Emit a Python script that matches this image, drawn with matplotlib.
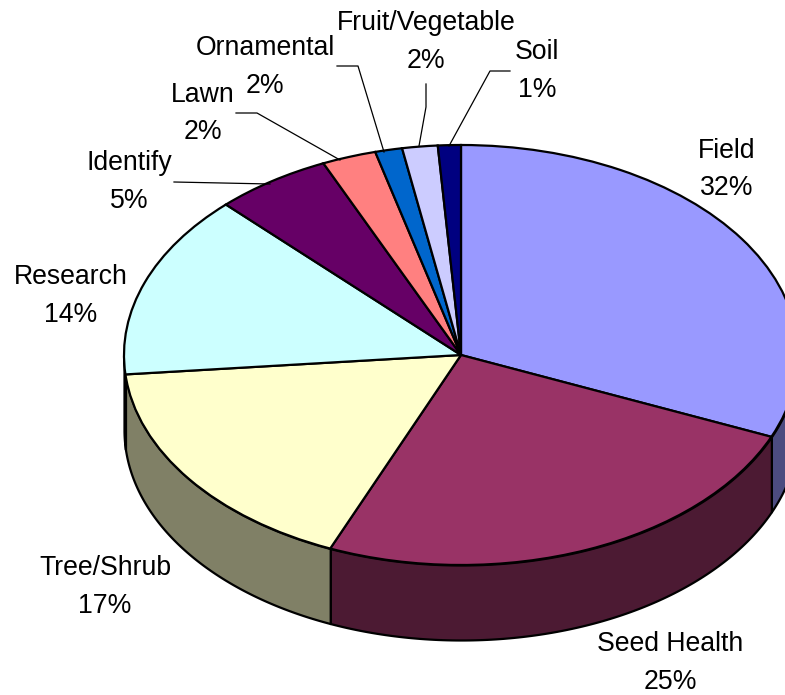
"""Soil/plant sample categories as an Excel-style 3D pie."""

import matplotlib.pyplot as plt
import numpy as np

plt.rcParams["font.family"] = ["Liberation Sans", "DejaVu Sans"]

W, H = 785, 695

CATEGORIES = ["Field", "Seed Health", "Tree/Shrub", "Research", "Identify",
              "Lawn", "Ornamental", "Fruit/Vegetable", "Soil"]
# slice sizes as drawn, the printed labels are rounded differently
SHARES = [31.4, 25.0, 17.2, 14.2, 5.6, 2.6, 1.3, 1.7, 1.1]
PERCENT_LABELS = [32, 25, 17, 14, 5, 2, 2, 2, 1]
TOP_COLORS = ["#9999ff", "#993366", "#ffffcc", "#ccffff", "#660066",
              "#ff8080", "#0066cc", "#ccccff", "#000080"]
WALL_COLORS = ["#4c4c80", "#4c1a33", "#808066", "#668080", "#330033",
               "#804040", "#003366", "#666680", "#000040"]

# label positions in image pixels: centre x, then y of name and percent lines
LABEL_X = [727, 670, 105, 71, 129, 203, 265, 426, 537]
NAME_Y = [151, 644, 568, 277, 163, 95, 48, 23, 52]
PERCENT_Y = [188, 682, 606, 315, 201, 132, 86, 61, 90]

LEADERS = [
    ([174, 270], [182, 184]),
    ([236, 257, 340], [113, 113, 160]),
    ([337, 358, 384], [66, 66, 152]),
    ([426, 426, 419], [84, 107, 146]),
    ([510, 490, 449], [71, 71, 146]),
]

# ellipse of the pie top in image pixels
CX, CY, RX, RY = 461, 355, 337, 210
DEPTH = 75 / RY

fig = plt.figure(figsize=(W / 100, H / 100), dpi=100, facecolor="white")

# unit circle squashed into the ellipse by the axes box itself
ax = fig.add_axes([(CX - RX) / W, 1 - (CY + RY) / H, 2 * RX / W, 2 * RY / H])
ax.pie(SHARES, colors=TOP_COLORS, startangle=90, counterclock=False, radius=1,
       wedgeprops=dict(edgecolor="black", linewidth=1.6, clip_on=False, zorder=3))
ax.set_aspect("auto")
ax.set_xlim(-1, 1)
ax.set_ylim(-1, 1)

# side walls: only the part of each slice on the front half of the ellipse
edges = 90 - np.cumsum([0] + SHARES) / sum(SHARES) * 360
for start, end, color in zip(edges[:-1], edges[1:], WALL_COLORS):
    lo, hi = max(end, -180), min(start, 0)
    if lo >= hi:
        continue
    t = np.radians(np.linspace(lo, hi, 120))
    ax.fill_between(np.cos(t), np.sin(t), np.sin(t) - DEPTH, facecolor=color,
                    edgecolor="black", linewidth=1.6, clip_on=False, zorder=2)

# overlay in image pixels for labels and leader lines
over = fig.add_axes([0, 0, 1, 1], facecolor="none")
over.set_xlim(0, W)
over.set_ylim(H, 0)
over.axis("off")

for xs, ys in LEADERS:
    over.plot(xs, ys, color="black", lw=0.9)

for name, pct, x, y1, y2 in zip(CATEGORIES, PERCENT_LABELS, LABEL_X, NAME_Y, PERCENT_Y):
    over.text(x, y1, name, ha="center", va="center", fontsize=19.2, color="black")
    over.text(x, y2, f"{pct}%", ha="center", va="center", fontsize=19.2, color="black")

fig.savefig("out.png", dpi=100, facecolor="white")
